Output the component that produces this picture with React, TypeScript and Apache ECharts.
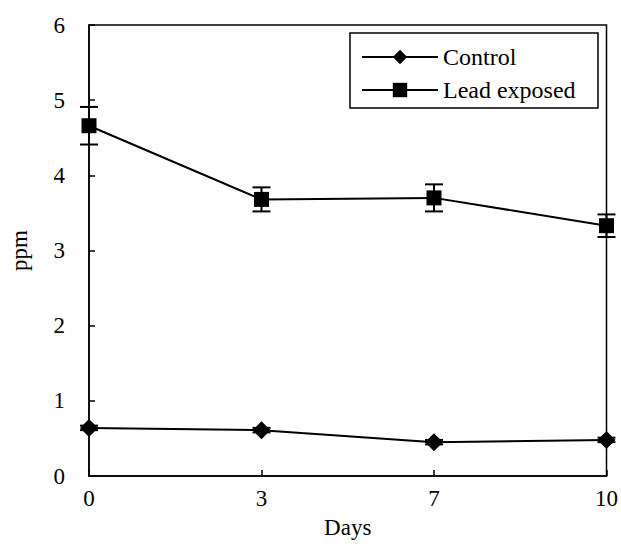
import React, { useEffect, useRef } from "react";
import * as echarts from "echarts";

const days = ["0", "3", "7", "10"];
const controlValues = [0.64, 0.61, 0.45, 0.48];
const controlErr = [0.03, 0.03, 0.03, 0.03];
const leadValues = [4.66, 3.68, 3.7, 3.33];
const leadErr = [0.25, 0.16, 0.18, 0.15];
const yTicks = [0, 1, 2, 3, 4, 5, 6];

const FONT = "'Liberation Serif', 'Times New Roman', serif";
const FS = 23;

function errorSeries(vals: number[], errs: number[]) {
  return {
    type: "custom",
    silent: true,
    z: 5,
    data: vals.map((v, i) => [i, v - errs[i], v + errs[i]]),
    renderItem: (params: any, api: any) => {
      const x = api.value(0);
      const lo = api.coord([x, api.value(1)]);
      const hi = api.coord([x, api.value(2)]);
      const hw = 9;
      const style = { stroke: "#000", lineWidth: 2 };
      return {
        type: "group",
        children: [
          { type: "line", shape: { x1: lo[0], y1: lo[1], x2: hi[0], y2: hi[1] }, style },
          { type: "line", shape: { x1: lo[0] - hw, y1: lo[1], x2: lo[0] + hw, y2: lo[1] }, style },
          { type: "line", shape: { x1: hi[0] - hw, y1: hi[1], x2: hi[0] + hw, y2: hi[1] }, style },
        ],
      };
    },
  };
}

export default function App() {
  const ref = useRef<HTMLDivElement>(null);
  useEffect(() => {
    if (!ref.current) return;
    const chart = echarts.init(ref.current, null, { renderer: "svg" });
    chart.setOption({
      animation: false,
      backgroundColor: "#fff",
      textStyle: { fontFamily: FONT, color: "#000" },
      grid: { left: 89, right: 12, top: 25, bottom: 61, show: true, borderColor: "#000", borderWidth: 1.5 },
      graphic: [
        {
          type: "rect",
          z: 50,
          shape: { x: 350, y: 33, width: 248, height: 75 },
          style: { fill: "#fff", stroke: "#000", lineWidth: 1.5 },
        },
      ],
      legend: {
        data: ["Control", "Lead exposed"],
        orient: "vertical",
        left: 361,
        top: 45,
        itemWidth: 76,
        itemHeight: 18,
        itemGap: 9,
        padding: 0,
        z: 60,
        textStyle: { fontFamily: FONT, fontSize: 24, color: "#000" },
      },
      xAxis: {
        type: "category",
        data: days,
        boundaryGap: false,
        axisLine: { lineStyle: { color: "#000", width: 1.5 } },
        axisTick: { inside: true, length: 6, lineStyle: { color: "#000", width: 1.5 } },
        axisLabel: { fontFamily: FONT, fontSize: FS, color: "#000", margin: 11 },
        name: "Days",
        nameLocation: "middle",
        nameGap: 40,
        nameTextStyle: { fontFamily: FONT, fontSize: FS, color: "#000" },
      },
      yAxis: {
        type: "value",
        min: yTicks[0],
        max: yTicks[yTicks.length - 1],
        interval: 1,
        splitLine: { show: false },
        axisLine: { show: true, lineStyle: { color: "#000", width: 1.5 } },
        axisTick: { show: true, inside: true, length: 6, lineStyle: { color: "#000", width: 1.5 } },
        axisLabel: { fontFamily: FONT, fontSize: FS, color: "#000", margin: 24 },
        name: "ppm",
        nameLocation: "middle",
        nameGap: 58,
        nameRotate: 90,
        nameTextStyle: { fontFamily: FONT, fontSize: FS, color: "#000" },
      },
      series: [
        errorSeries(controlValues, controlErr),
        errorSeries(leadValues, leadErr),
        {
          name: "Control",
          type: "line",
          data: controlValues,
          symbol: "diamond",
          symbolSize: 18,
          z: 10,
          lineStyle: { color: "#000", width: 2 },
          itemStyle: { color: "#000" },
        },
        {
          name: "Lead exposed",
          type: "line",
          data: leadValues,
          symbol: "rect",
          symbolSize: 15,
          z: 10,
          lineStyle: { color: "#000", width: 2 },
          itemStyle: { color: "#000" },
        },
      ],
    });
    return () => chart.dispose();
  }, []);
  return <div ref={ref} style={{ width: 621, height: 544, position: "absolute", left: 0, top: 0 }} />;
}
